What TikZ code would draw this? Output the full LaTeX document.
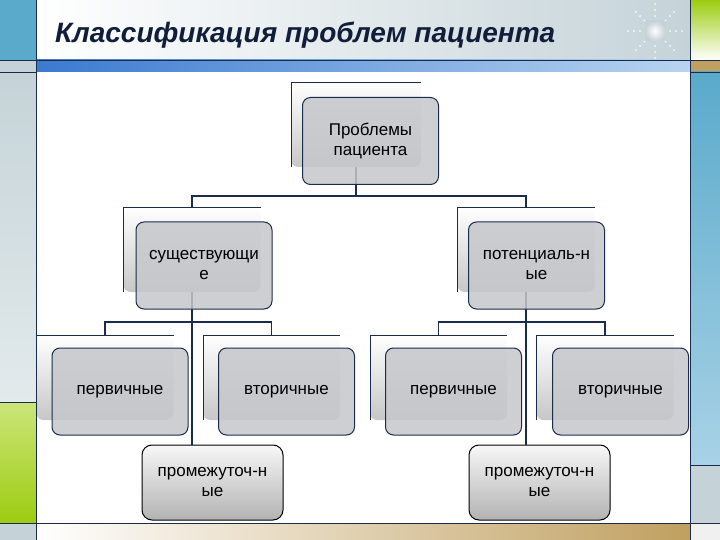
\documentclass[tikz,border=0pt]{standalone}
\usepackage{fontspec}
\setmainfont{Liberation Sans}
\usetikzlibrary{positioning}
\definecolor{navy}{HTML}{1B2B4B}
\definecolor{ink}{HTML}{101E3A}
\definecolor{frameblue}{HTML}{5AAACB}
\definecolor{frameblue2}{HTML}{A8D2E6}
\definecolor{framegrey}{HTML}{C5D3D8}
\definecolor{framegrey2}{HTML}{E2EAEC}
\definecolor{lime}{HTML}{9CCC10}
\definecolor{lime2}{HTML}{CCE67A}
\definecolor{tan}{HTML}{C0A060}
\definecolor{barblue}{HTML}{3A7AD0}
\definecolor{barblue2}{HTML}{B8D4F0}
\definecolor{boxgrey}{HTML}{C6C7CB}
\begin{document}
\begin{tikzpicture}[x=1pt, y=-1pt,
  back/.style={rectangle, rounded corners=7pt, minimum width=137pt,
               minimum height=85pt, inner sep=0pt, outer sep=0pt,
               top color=white, bottom color=black!22},
  rim/.style={draw=navy, line width=0.8pt},
  front/.style={draw=navy, line width=1pt, rectangle, rounded corners=8pt,
                fill=boxgrey, fill opacity=0.85, text opacity=1,
                minimum width=136pt, minimum height=87pt, inner sep=0pt,
                outer sep=0pt, align=center, font=\fontsize{17}{20}\selectfont},
  mid/.style={draw=black, line width=1pt, rectangle, rounded corners=10pt,
              top color=black!3, bottom color=black!30,
              minimum width=141pt, minimum height=75pt, inner sep=0pt,
              outer sep=0pt, align=center, font=\fontsize{17}{20}\selectfont},
  link/.style={draw=navy, line width=1.4pt},
  edge/.style={draw=navy, line width=0.8pt},
]
\useasboundingbox (0,0) rectangle (720,540);
% Slide frame
\fill[frameblue] (0,0) rectangle (36,60);
\fill[framegrey] (0,60) rectangle (36,72);
\shade[top color=framegrey, bottom color=framegrey2] (0,72) rectangle (36,402);
\shade[top color=lime2, bottom color=lime] (0,402) rectangle (36,523);
\fill[framegrey] (0,523) rectangle (36,540);
\shade[top color=lime, bottom color=white] (690,0) rectangle (720,60);
\fill[tan] (690,60) rectangle (720,72);
\shade[top color=frameblue, bottom color=frameblue2] (690,72) rectangle (720,465);
\fill[framegrey] (690,465) rectangle (720,523);
\fill[black!6] (690,523) rectangle (720,540);
\shade[left color=white, right color=framegrey] (36,0) rectangle (690,60);
\shade[left color=barblue, right color=barblue2] (36,60) rectangle (690,72);
\shade[left color=white, right color=tan] (36,523) rectangle (690,540);
\draw[edge] (0,60) -- (720,60);
\draw[edge] (0,72) -- (36,72) (690,72) -- (720,72);
\draw[edge] (0,402) -- (36,402) (690,465) -- (720,465);
\draw[edge] (0,523) -- (720,523);
\draw[edge] (36,0) -- (36,540) (690,0) -- (690,540);
% Sparkle
\shade[inner color=white, outer color=framegrey] (645,21) rectangle (665,41);
\foreach \a in {0,45,...,315}
  \foreach \r in {15,21,27}
    \fill[white, opacity=0.8] (655,31) ++(\a:\r) circle (1.1pt);
% Title
\node[anchor=base west, inner sep=0pt, text=ink,
      font=\fontsize{28}{30}\selectfont\bfseries\itshape] (title) at (55,43)
  {Классификация проблем пациента};
% Back boxes
\node[back, minimum width=130pt] (probB) at (356,124.5) {};
\node[back] (exB) at (192,249.5) {};
\node[back] (potB) at (526,249.5) {};
\node[back] (lpB) at (105,377.5) {};
\node[back] (lsB) at (271.5,377.5) {};
\node[back] (rpB) at (438.5,377.5) {};
\node[back] (rsB) at (605,377.5) {};
\foreach \b in {probB,exB,potB,lpB,lsB,rpB,rsB}
  \draw[rim] (\b.south west) -- (\b.north west) -- (\b.north east);
% Bottom boxes
\node[mid] (lmid) at (212.5,482.5) {промежуточ-н\\ые};
\node[mid] (rmid) at (539.5,482.5) {промежуточ-н\\ые};
% Tree
\coordinate (bus0) at (356,196);
\coordinate (bus1) at (192,322);
\coordinate (bus2) at (526,322);
\draw[link] (probB.south) -- (bus0);
\draw[link] (exB.north) |- (bus0) -| (potB.north);
\draw[link] (exB.south) -- (exB.south |- lmid.north);
\draw[link] (lpB.north) |- (bus1) -| (lsB.north);
\draw[link] (potB.south) -- (potB.south |- rmid.north);
\draw[link] (rpB.north) |- (bus2) -| (rsB.north);
% Front boxes
\node[front] (prob) at (370.5,141) {Проблемы\\пациента};
\node[front] (ex) at (204,265.5) {существующи\\е};
\node[front] (pot) at (536.5,265.5) {потенциаль-н\\ые};
\node[front] (lp) at (120,391.5) {первичные};
\node[front] (ls) at (286.5,391.5) {вторичные};
\node[front] (rp) at (453.5,391.5) {первичные};
\node[front] (rs) at (620.5,391.5) {вторичные};
\end{tikzpicture}
\end{document}
